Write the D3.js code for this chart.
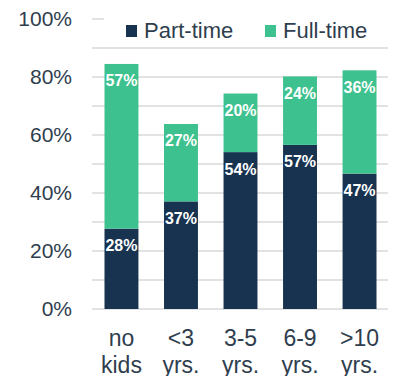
<!DOCTYPE html>
<html>
<head>
<meta charset="utf-8">
<script src="https://cdn.jsdelivr.net/npm/d3@7"></script>
<style>
  body { margin: 0; background: #fff; }
  svg { display: block; font-family: "Liberation Sans", Arial, sans-serif; }
</style>
</head>
<body>
<div id="chart"></div>
<script>
// data
const categories = [["no", "kids"], ["<3", "yrs."], ["3-5", "yrs."], ["6-9", "yrs."], [">10", "yrs."]];
const partTime = [27.7, 37.1, 54.1, 56.6, 46.7];
const fullTime = [56.8, 26.7, 20.2, 23.6, 35.6];
const seriesNames = ["Part-time", "Full-time"];
const yTicks = [0, 10, 20, 30, 40, 50, 60, 70, 80, 90, 100];
const yLabelTicks = [0, 20, 40, 60, 80, 100];

const width = 395, height = 376;
const colors = {"Part-time": "#17334f", "Full-time": "#3dc18e"};

const svg = d3.select("#chart").append("svg")
    .attr("width", width)
    .attr("height", height);

// scales
const x = d3.scaleBand()
    .domain(d3.range(categories.length))
    .range([92, 389])
    .paddingInner(0.43)
    .paddingOuter(0.21);

const y = d3.scaleLinear()
    .domain([0, 100])
    .range([309, 19]);

// gridlines
svg.append("g")
    .selectAll("line")
    .data(yTicks)
    .enter().append("line")
    .attr("x1", 92)
    .attr("x2", 388)
    .attr("y1", d => y(d))
    .attr("y2", d => y(d))
    .attr("stroke", "#d9d9d9")
    .attr("stroke-width", 1.3);

// y tick labels
svg.append("g")
    .selectAll("text")
    .data(yLabelTicks)
    .enter().append("text")
    .attr("x", 72)
    .attr("y", d => y(d))
    .attr("dy", "0.35em")
    .attr("text-anchor", "end")
    .attr("font-size", "21px")
    .attr("fill", "#2f3e4e")
    .text(d => d + "%");

// stacked bars
const rows = categories.map((c, i) => ({i: i, "Part-time": partTime[i], "Full-time": fullTime[i]}));
const stacked = d3.stack().keys(seriesNames)(rows);

const layers = svg.append("g")
    .selectAll("g")
    .data(stacked)
    .enter().append("g")
    .attr("fill", d => colors[d.key]);

layers.selectAll("rect")
    .data(d => d)
    .enter().append("rect")
    .attr("x", d => x(d.data.i))
    .attr("width", x.bandwidth())
    .attr("y", d => y(d[1]))
    .attr("height", d => y(d[0]) - y(d[1]));

// value labels
layers.selectAll("text")
    .data(d => d)
    .enter().append("text")
    .attr("x", d => x(d.data.i) + x.bandwidth() / 2)
    .attr("y", d => y(d[1]) + 22.5)
    .attr("text-anchor", "middle")
    .attr("font-size", "16px")
    .attr("font-weight", "bold")
    .attr("fill", "#fff")
    .text(d => d3.format(".0f")(d[1] - d[0]) + "%");

// x labels (two lines)
const xLabels = svg.append("g")
    .selectAll("text")
    .data(categories)
    .enter().append("text")
    .attr("x", (d, i) => x(i) + x.bandwidth() / 2)
    .attr("y", 346)
    .attr("text-anchor", "middle")
    .attr("font-size", "23px")
    .attr("fill", "#2f3e4e");

xLabels.selectAll("tspan")
    .data(d => d)
    .enter().append("tspan")
    .attr("x", function() { return d3.select(this.parentNode).attr("x"); })
    .attr("dy", (d, j) => j === 0 ? 0 : 27)
    .text(d => d);

// legend, sits on a white box over the 100% line
svg.append("rect")
    .attr("x", 104)
    .attr("y", 8)
    .attr("width", 291)
    .attr("height", 36)
    .attr("fill", "#fff");

const legendX = [126, 265];
const legend = svg.append("g")
    .selectAll("g")
    .data(seriesNames)
    .enter().append("g")
    .attr("transform", (d, i) => `translate(${legendX[i]}, 25)`);

legend.append("rect")
    .attr("width", 11)
    .attr("height", 12)
    .attr("fill", d => colors[d]);

legend.append("text")
    .attr("x", 18)
    .attr("y", 12.7)
    .attr("font-size", "22px")
    .attr("fill", "#2f3e4e")
    .text(d => d);
</script>
</body>
</html>
